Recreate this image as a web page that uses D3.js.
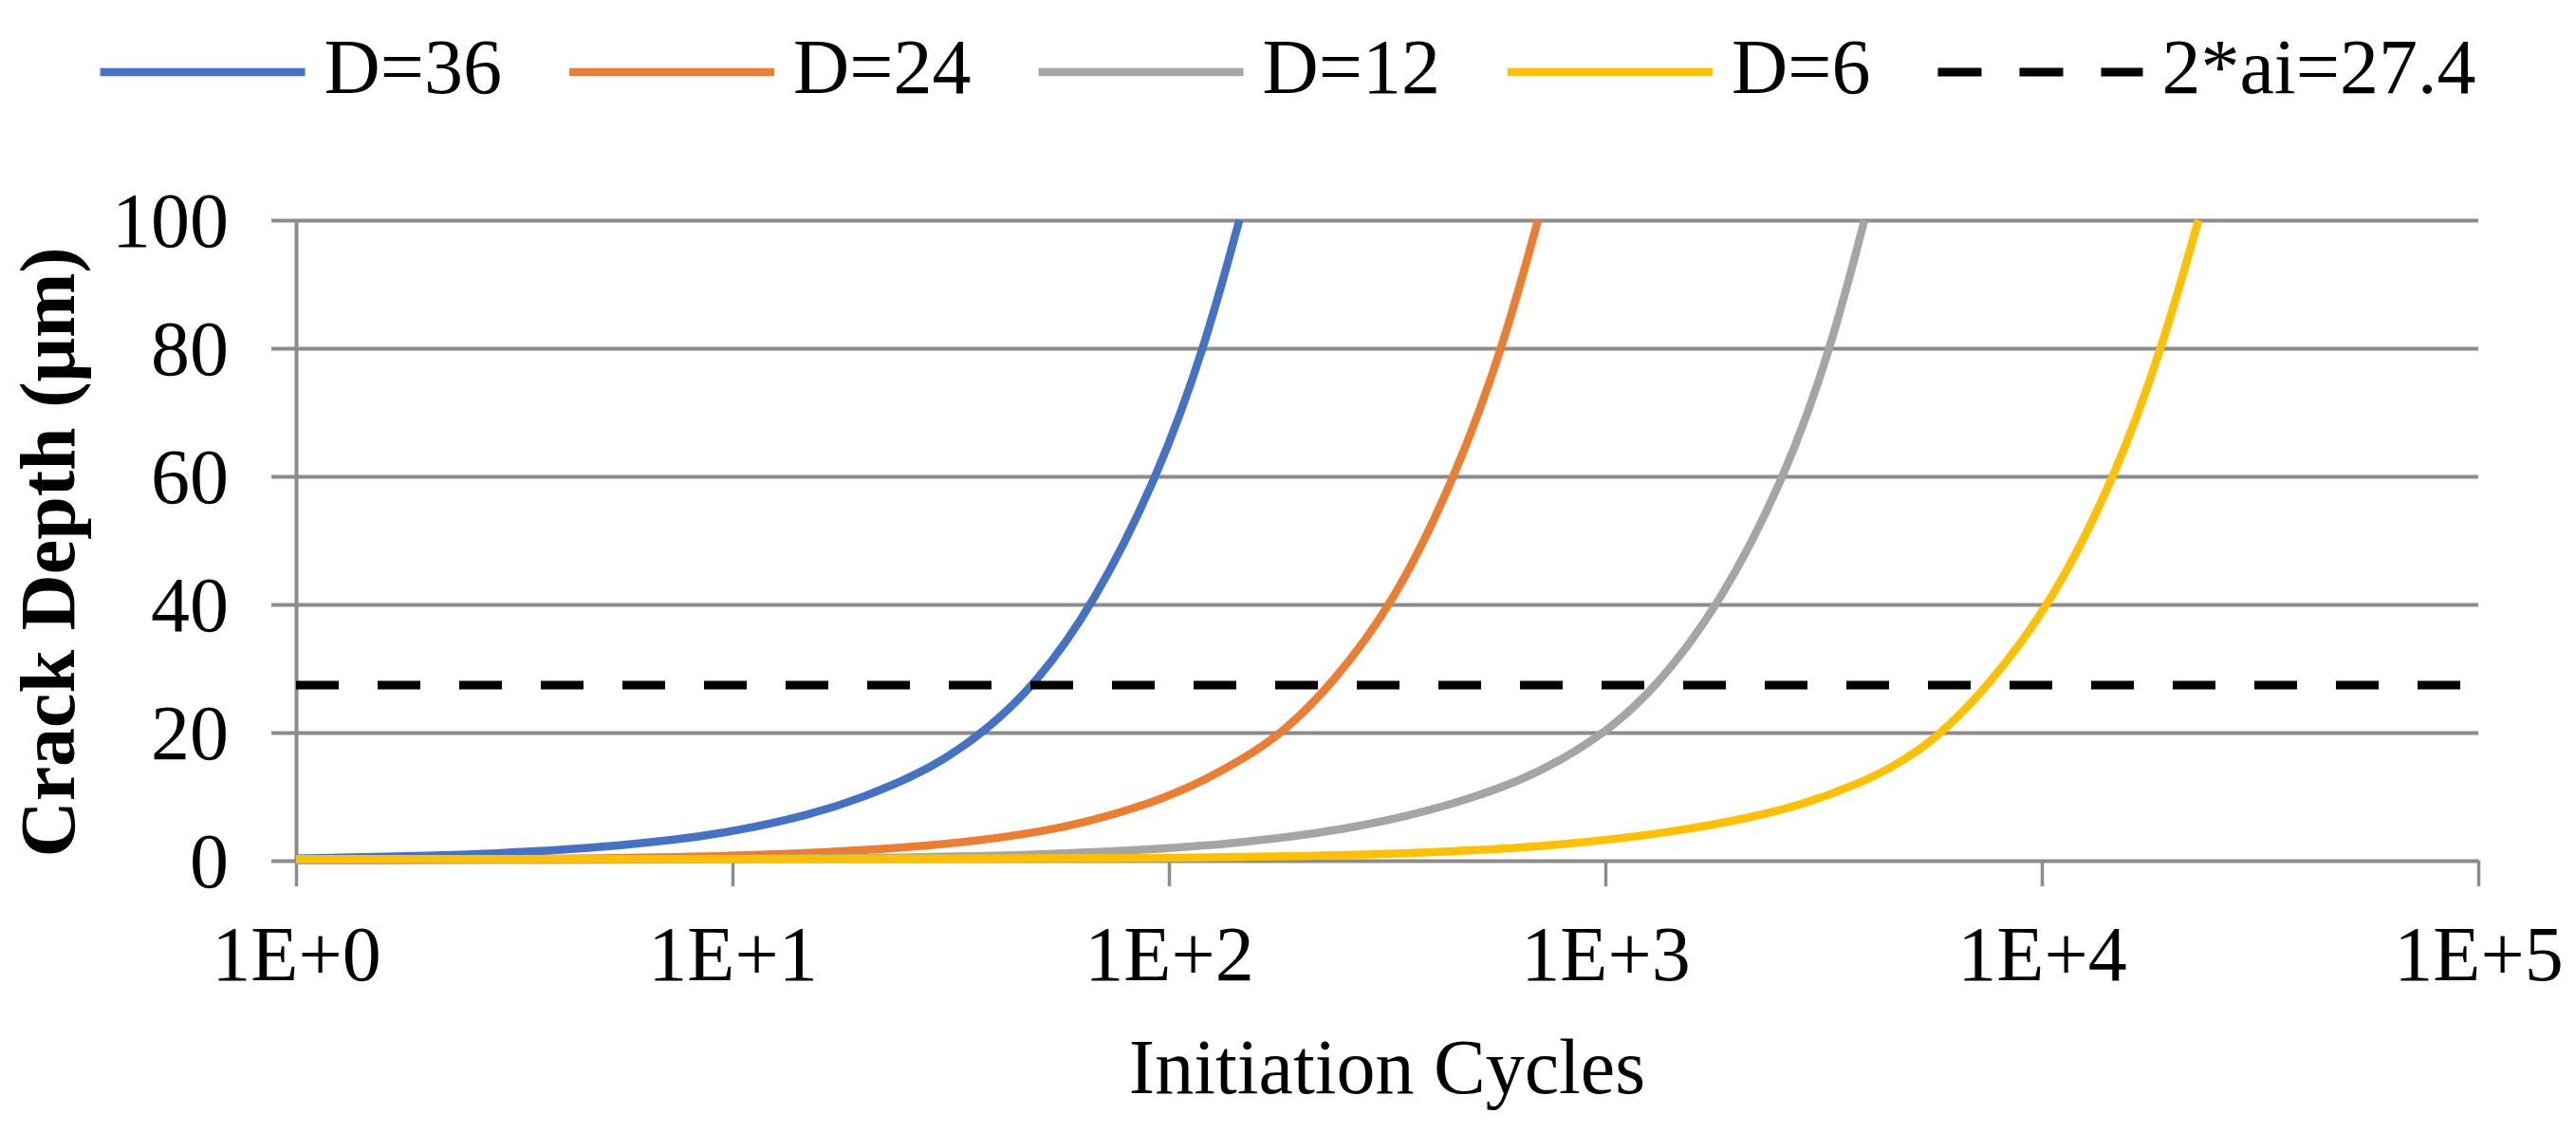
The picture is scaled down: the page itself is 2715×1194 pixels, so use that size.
<!DOCTYPE html>
<html>
<head>
<meta charset="utf-8">
<script src="https://cdn.jsdelivr.net/npm/d3@7"></script>
<style>
  body { margin: 0; background: #fff; }
  text { font-family: "Liberation Serif", "Times New Roman", serif; fill: #000; }
</style>
</head>
<body>
<div id="chart"></div>
<script>
// values
const seriesNames = ["D=36", "D=24", "D=12", "D=6"];
const seriesColors = ["#4472C4", "#ED7D31", "#A5A5A5", "#FFC000"];

const cyclesD36 = [1, 2, 3, 4, 5.6, 7.3, 10, 15, 20, 26, 30.5, 37.6, 49.4, 67.3, 94.4, 120.6, 145];
const depthD36  = [0.35, 0.75, 1.2, 1.65, 2.4, 3.2, 4.5, 7.1, 9.9, 13.2, 15.8, 20, 27.4, 40, 60, 80, 100];

const cyclesD24 = [1, 5, 12.1, 22.9, 36, 51.6, 62.5, 83.4, 111, 148, 184, 234, 327, 454, 582, 701];
const depthD24  = [0.05, 0.3, 0.85, 1.8, 3.0, 4.6, 5.8, 8.1, 11.3, 15.8, 20.2, 27.2, 40, 60, 80, 100];

const cyclesD12 = [1, 10, 25, 51.6, 97.8, 134.6, 185, 255, 351, 482, 643, 779, 1010, 1300, 1832, 2588, 3291, 3922];
const depthD12  = [0.02, 0.18, 0.45, 0.95, 1.85, 2.6, 3.6, 5.0, 6.9, 9.5, 12.6, 15.4, 20.2, 26.8, 40, 60, 80, 100];

const cyclesD6 = [1, 10, 100, 255, 482, 779, 1258, 2030, 2832, 3835, 4510, 5190, 5900, 7440, 10510, 14750, 18880, 22850];
const depthD6  = [0.25, 0.25, 0.35, 0.8, 1.5, 2.45, 3.9, 6.3, 8.7, 12.1, 14.5, 17.1, 20, 26.8, 40, 60, 80, 100];

const thresholdLabel = "2*ai=27.4";
const thresholdDepth = 27.4;

const xTickValues = [1, 10, 100, 1000, 10000, 100000];
const xTickLabels = ["1E+0", "1E+1", "1E+2", "1E+3", "1E+4", "1E+5"];
const yTickValues = [0, 20, 40, 60, 80, 100];

const allCycles = [cyclesD36, cyclesD24, cyclesD12, cyclesD6];
const allDepths = [depthD36, depthD24, depthD12, depthD6];

const series = seriesNames.map((name, i) => ({
    name: name,
    color: seriesColors[i],
    points: allCycles[i].map((c, j) => [c, allDepths[i][j]])
}));

const W = 2715, H = 1194;
const margin = { top: 232, right: 103, bottom: 287, left: 312 };
const width = W - margin.left - margin.right;
const height = H - margin.top - margin.bottom;
const gridColor = "#8c8c8c";
const fontSize = 82;

const svgRoot = d3.select("#chart").append("svg")
    .attr("width", W)
    .attr("height", H);

svgRoot.append("rect").attr("width", W).attr("height", H).attr("fill", "#fff");

const svg = svgRoot.append("g")
    .attr("transform", `translate(${margin.left},${margin.top})`);

const x = d3.scaleLog()
    .domain([1, 1e5])
    .range([0, width]);

const y = d3.scaleLinear()
    .domain([0, 100])
    .range([height, 0]);

// horizontal gridlines
svg.append("g")
    .attr("class", "grid")
    .call(d3.axisLeft(y).tickValues(yTickValues.slice(1)).tickSize(-width).tickFormat(""))
    .call(g => g.select(".domain").remove())
    .selectAll("line")
    .attr("stroke", gridColor)
    .attr("stroke-width", 4);

// y axis
const yAxis = svg.append("g")
    .attr("class", "y axis")
    .call(d3.axisLeft(y).tickValues(yTickValues).tickSize(26).tickSizeOuter(0).tickPadding(45));
yAxis.select(".domain").attr("stroke", gridColor).attr("stroke-width", 4);
yAxis.selectAll(".tick line").attr("stroke", gridColor).attr("stroke-width", 4);
yAxis.selectAll("text")
    .attr("dy", "0.34em")
    .style("font-size", fontSize + "px")
    .style("fill", "#000");

// x axis
const xAxis = svg.append("g")
    .attr("class", "x axis")
    .attr("transform", `translate(0,${height})`)
    .call(d3.axisBottom(x).tickValues(xTickValues).tickFormat((d, i) => xTickLabels[i]).tickSize(27).tickSizeOuter(0));
xAxis.select(".domain").attr("stroke", gridColor).attr("stroke-width", 4);
xAxis.selectAll(".tick line").attr("stroke", gridColor).attr("stroke-width", 3.5);
xAxis.selectAll("text")
    .attr("y", 126)
    .attr("dy", 0)
    .style("font-size", fontSize + "px")
    .style("fill", "#000");

// axis titles
svgRoot.append("text")
    .attr("transform", "translate(78,582) rotate(-90)")
    .attr("text-anchor", "middle")
    .style("font-size", fontSize + "px")
    .style("font-weight", "bold")
    .text("Crack Depth (\u03bcm)");

svgRoot.append("text")
    .attr("x", margin.left + width / 2)
    .attr("y", 1152)
    .attr("text-anchor", "middle")
    .style("font-size", fontSize + "px")
    .text("Initiation Cycles");

// curves, smoothed like the spreadsheet lines
const line = d3.line()
    .x(d => x(d[0]))
    .y(d => y(d[1]))
    .curve(d3.curveBasis);

svg.selectAll(".series")
    .data(series)
    .enter().append("path")
    .attr("class", "series")
    .attr("fill", "none")
    .attr("stroke", d => d.color)
    .attr("stroke-width", 8.5)
    .attr("stroke-linejoin", "round")
    .attr("d", d => line(d.points));

// threshold line
svg.append("line")
    .attr("x1", x(1))
    .attr("x2", x(1e5))
    .attr("y1", y(thresholdDepth))
    .attr("y2", y(thresholdDepth))
    .attr("stroke", "#000")
    .attr("stroke-width", 9)
    .attr("stroke-dasharray", "45,41");

// legend
const legendItems = series.map(s => ({ name: s.name, color: s.color, dash: null }))
    .concat([{ name: thresholdLabel, color: "#000", dash: "46,40" }]);

const lineLen = 216, lineGap = 20, itemGap = 71, legendY = 76;

const legend = svgRoot.append("g").attr("class", "legend");
const items = legend.selectAll(".legend-item")
    .data(legendItems)
    .enter().append("g")
    .attr("class", "legend-item");

items.append("line")
    .attr("x1", 0)
    .attr("x2", lineLen)
    .attr("y1", legendY)
    .attr("y2", legendY)
    .attr("stroke", d => d.color)
    .attr("stroke-width", d => d.dash ? 9 : 8.5)
    .attr("stroke-dasharray", d => d.dash);

items.append("text")
    .attr("x", lineLen + lineGap)
    .attr("y", 98)
    .style("font-size", fontSize + "px")
    .text(d => d.name);

const widths = [];
items.each(function () {
    widths.push(lineLen + lineGap + d3.select(this).select("text").node().getComputedTextLength());
});
const total = d3.sum(widths) + itemGap * (widths.length - 1);
let cursor = W / 2 - total / 2;
items.attr("transform", (d, i) => {
    const t = `translate(${cursor},0)`;
    cursor += widths[i] + itemGap;
    return t;
});
</script>
</body>
</html>
